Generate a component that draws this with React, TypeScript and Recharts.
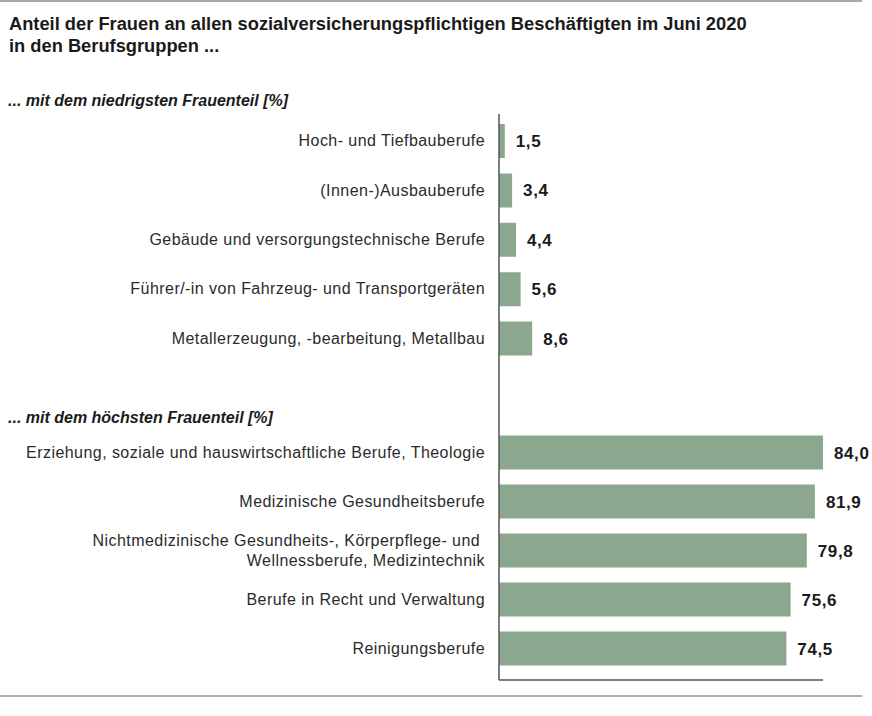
import React from 'react';
import { BarChart, Bar, XAxis, YAxis, LabelList } from 'recharts';

const titleLines = [
  'Anteil der Frauen an allen sozialversicherungspflichtigen Beschäftigten im Juni 2020',
  'in den Berufsgruppen ...',
];
const lowHeader = '... mit dem niedrigsten Frauenteil [%]';
const highHeader = '... mit dem höchsten Frauenteil [%]';

const lowCategories = [
  'Hoch- und Tiefbauberufe',
  '(Innen-)Ausbauberufe',
  'Gebäude und versorgungstechnische Berufe',
  'Führer/-in von Fahrzeug- und Transportgeräten',
  'Metallerzeugung, -bearbeitung, Metallbau',
];
const lowValues = [1.5, 3.4, 4.4, 5.6, 8.6];

const highCategories = [
  'Erziehung, soziale und hauswirtschaftliche Berufe, Theologie',
  'Medizinische Gesundheitsberufe',
  'Nichtmedizinische Gesundheits-, Körperpflege- und \nWellnessberufe, Medizintechnik',
  'Berufe in Recht und Verwaltung',
  'Reinigungsberufe',
];
const highValues = [84.0, 81.9, 79.8, 75.6, 74.5];

const xDomain = [0, 84];

const FONT = '"Liberation Sans", Arial, sans-serif';
const BAR_COLOR = '#8ba88f';
const AXIS_COLOR = '#555555';

const lowData = lowCategories.map((name, i) => ({ name, value: lowValues[i] }));
const highData = highCategories.map((name, i) => ({ name, value: highValues[i] }));

const fmt = (v: any) => Number(v).toFixed(1).replace('.', ',');

const CategoryTick = (props: any) => {
  const { x, y, payload } = props;
  const lines = String(payload.value).split('\n');
  const lh = 20;
  return (
    <text
      x={x}
      y={y}
      textAnchor="end"
      fill="#2b2b2b"
      fontSize={16}
      fontFamily={FONT}
      letterSpacing={0.45}
    >
      {lines.map((l, i) => (
        <tspan key={i} x={x} dy={i === 0 ? -((lines.length - 1) * lh) / 2 + 5.5 : lh} style={{ whiteSpace: 'pre' }}>
          {l}
        </tspan>
      ))}
    </text>
  );
};

const ValueLabel = (props: any) => {
  const { x, y, width, height, value } = props;
  return (
    <text
      x={x + width + 11}
      y={y + height / 2 + 6}
      textAnchor="start"
      fill="#1a1a1a"
      fontSize={17}
      fontWeight={700}
      fontFamily={FONT}
      letterSpacing={0.6}
    >
      {fmt(value)}
    </text>
  );
};

export default function App() {
  return (
    <div
      style={{
        position: 'absolute',
        left: 0,
        top: 0,
        width: 872,
        height: 716,
        background: '#ffffff',
        fontFamily: FONT,
        overflow: 'hidden',
      }}
    >
      <div style={{ position: 'absolute', left: 0, top: 0, width: 862, height: 2, background: '#a8a8a8' }} />
      <div
        style={{
          position: 'absolute',
          left: 9,
          top: 13,
          fontSize: 18.3,
          lineHeight: '22px',
          fontWeight: 700,
          color: '#1a1a1a',
          whiteSpace: 'nowrap',
        }}
      >
        {titleLines.map((t, i) => (
          <div key={i}>{t}</div>
        ))}
      </div>
      <div
        style={{
          position: 'absolute',
          left: 8,
          top: 92,
          fontSize: 16,
          fontWeight: 700,
          fontStyle: 'italic',
          color: '#1a1a1a',
          whiteSpace: 'nowrap',
        }}
      >
        {lowHeader}
      </div>
      <div
        style={{
          position: 'absolute',
          left: 8,
          top: 409,
          fontSize: 16,
          fontWeight: 700,
          fontStyle: 'italic',
          color: '#1a1a1a',
          whiteSpace: 'nowrap',
        }}
      >
        {highHeader}
      </div>

      <div style={{ position: 'absolute', left: 0, top: 0 }}>
        <BarChart
          width={872}
          height={363}
          data={lowData}
          layout="vertical"
          margin={{ top: 114, right: 49, bottom: 0, left: 0 }}
        >
          <XAxis type="number" domain={xDomain} hide />
          <YAxis
            type="category"
            dataKey="name"
            width={499}
            padding={{ top: 2, bottom: 0 }}
            axisLine={{ stroke: AXIS_COLOR, strokeWidth: 1.5 }}
            tickLine={false}
            tickSize={0}
            tickMargin={14}
            tick={<CategoryTick />}
            interval={0}
          />
          <Bar dataKey="value" fill={BAR_COLOR} barSize={34} isAnimationActive={false}>
            <LabelList dataKey="value" content={<ValueLabel />} />
          </Bar>
        </BarChart>
      </div>

      <div style={{ position: 'absolute', left: 0, top: 363 }}>
        <BarChart
          width={872}
          height={330}
          data={highData}
          layout="vertical"
          margin={{ top: 0, right: 49, bottom: 0, left: 0 }}
        >
          <XAxis
            type="number"
            domain={xDomain}
            height={13}
            tick={false}
            tickLine={false}
            axisLine={{ stroke: AXIS_COLOR, strokeWidth: 1.5 }}
          />
          <YAxis
            type="category"
            dataKey="name"
            width={499}
            padding={{ top: 64.5, bottom: 7.5 }}
            axisLine={{ stroke: AXIS_COLOR, strokeWidth: 1.5 }}
            tickLine={false}
            tickSize={0}
            tickMargin={14}
            tick={<CategoryTick />}
            interval={0}
          />
          <Bar dataKey="value" fill={BAR_COLOR} barSize={34} isAnimationActive={false}>
            <LabelList dataKey="value" content={<ValueLabel />} />
          </Bar>
        </BarChart>
      </div>

      <div style={{ position: 'absolute', left: 0, top: 695, width: 862, height: 1.5, background: '#b0b0b0' }} />
    </div>
  );
}
